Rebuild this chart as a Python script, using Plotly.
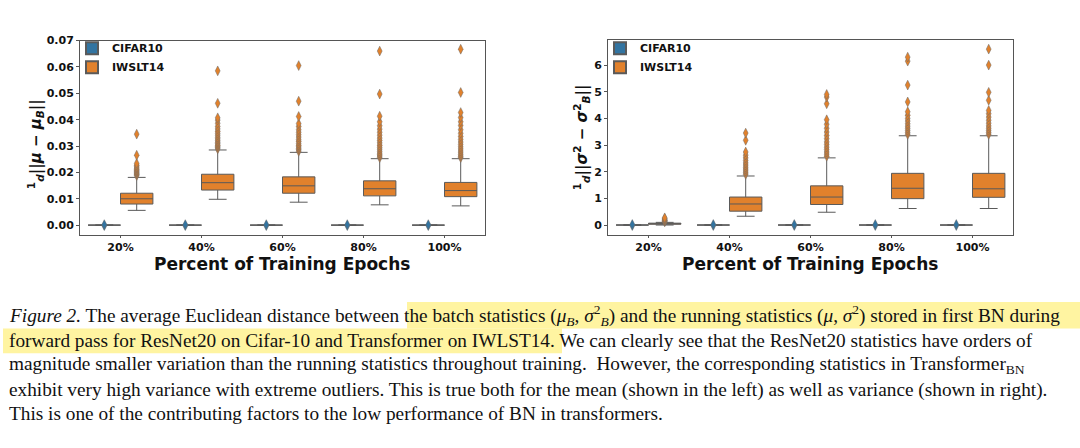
import plotly.graph_objects as go
from plotly.subplots import make_subplots

# categories on the x axis
epochs = ["20%", "40%", "60%", "80%", "100%"]

# left panel: 1/d ||mu - mu_B||
cifar_mean_q1 = [0.0, 0.0, 0.0, 0.0, 0.0]
cifar_mean_med = [0.0, 0.0, 0.0, 0.0, 0.0]
cifar_mean_q3 = [0.0, 0.0, 0.0, 0.0, 0.0]
cifar_mean_lo = [-0.0001, -0.0001, -0.0001, -0.0001, -0.0001]
cifar_mean_hi = [0.0001, 0.0001, 0.0001, 0.0001, 0.0001]
cifar_mean_out = [[0.0002, -0.0002], [0.0002, -0.0002], [0.0002, -0.0002],
                  [0.0002, -0.0002], [0.0002, -0.0002]]

iwslt_mean_q1 = [0.0080, 0.0133, 0.0121, 0.0111, 0.0108]
iwslt_mean_med = [0.0100, 0.0161, 0.0149, 0.0138, 0.0131]
iwslt_mean_q3 = [0.0121, 0.0193, 0.0183, 0.0168, 0.0162]
iwslt_mean_lo = [0.0056, 0.0098, 0.0087, 0.0077, 0.0073]
iwslt_mean_hi = [0.0181, 0.0285, 0.0276, 0.0252, 0.0252]
iwslt_mean_out = [
    [0.0188, 0.0192, 0.0195, 0.0199, 0.0203, 0.0207, 0.0211, 0.0216, 0.0221,
     0.0227, 0.0234, 0.0265, 0.0345],
    [0.0289, 0.0294, 0.0298, 0.0303, 0.0309, 0.0314, 0.0320, 0.0327, 0.0333,
     0.0341, 0.0348, 0.0356, 0.0365, 0.0374, 0.0386, 0.0398, 0.0407, 0.0462, 0.0585],
    [0.0280, 0.0286, 0.0291, 0.0297, 0.0303, 0.0310, 0.0318, 0.0325, 0.0334,
     0.0343, 0.0352, 0.0362, 0.0374, 0.0385, 0.0412, 0.0470, 0.0605],
    [0.0256, 0.0262, 0.0267, 0.0273, 0.0280, 0.0288, 0.0295, 0.0303, 0.0312,
     0.0321, 0.0330, 0.0341, 0.0352, 0.0364, 0.0377, 0.0392, 0.0413, 0.0497, 0.0660],
    [0.0256, 0.0261, 0.0267, 0.0274, 0.0281, 0.0289, 0.0297, 0.0306, 0.0315,
     0.0325, 0.0336, 0.0348, 0.0362, 0.0378, 0.0392, 0.0408, 0.0427, 0.0503, 0.0667],
]

# right panel: 1/d ||sigma^2 - sigma_B^2||
cifar_var_q1 = [0.0, 0.0, 0.0, 0.0, 0.0]
cifar_var_med = [0.0, 0.0, 0.0, 0.0, 0.0]
cifar_var_q3 = [0.0, 0.0, 0.0, 0.0, 0.0]
cifar_var_lo = [-0.01, -0.01, -0.01, -0.01, -0.01]
cifar_var_hi = [0.01, 0.01, 0.01, 0.01, 0.01]
cifar_var_out = [[0.02, -0.02], [0.02, -0.02], [0.02, -0.02], [0.02, -0.02], [0.02, -0.02]]

iwslt_var_q1 = [0.03, 0.52, 0.77, 0.99, 1.04]
iwslt_var_med = [0.05, 0.79, 1.05, 1.38, 1.36]
iwslt_var_q3 = [0.07, 1.05, 1.47, 1.94, 1.94]
iwslt_var_lo = [0.0, 0.33, 0.48, 0.62, 0.62]
iwslt_var_hi = [0.10, 1.84, 2.52, 3.35, 3.35]
iwslt_var_out = [
    [0.12, 0.14, 0.16, 0.18, 0.21, 0.24, 0.27],
    [1.90, 1.96, 2.03, 2.10, 2.17, 2.25, 2.33, 2.42, 2.52, 2.62, 2.74, 3.18, 3.45],
    [2.58, 2.66, 2.74, 2.83, 2.92, 3.02, 3.12, 3.24, 3.36, 3.49, 3.63, 3.78, 3.95,
     4.55, 4.80, 4.90],
    [3.40, 3.47, 3.55, 3.63, 3.71, 3.80, 3.90, 4.00, 4.12, 4.25, 4.62, 5.25, 6.15, 6.30],
    [3.40, 3.47, 3.55, 3.63, 3.72, 3.82, 3.93, 4.05, 4.18, 4.30, 4.68, 4.98, 6.00, 6.60],
]

caption_lines = [
    "<i>Figure 2.</i> The average Euclidean distance between the batch statistics "
    "(<i>μ<sub>B</sub></i>, <i>σ</i><sup>2</sup><sub><i>B</i></sub>) and the running statistics "
    "(<i>μ</i>, <i>σ</i><sup>2</sup>) stored in first BN during",
    "forward pass for ResNet20 on Cifar-10 and Transformer on IWLST14. We can clearly see "
    "that the ResNet20 statistics have orders of",
    "magnitude smaller variation than the running statistics throughout training.  However, "
    "the corresponding statistics in Transformer<sub>BN</sub>",
    "exhibit very high variance with extreme outliers. This is true both for the mean "
    "(shown in the left) as well as variance (shown in right).",
    "This is one of the contributing factors to the low performance of BN in transformers.",
]

BLUE = "#3274a1"
ORANGE = "#e1812c"
W, H = 1080, 448


def px_x(v):
    return v / W


def px_y(v):
    return 1 - v / H


def add_box(fig, col, name, color, q1, med, q3, lo, hi, out, legend):
    fig.add_trace(go.Box(
        x=epochs, y=out, q1=q1, median=med, q3=q3, lowerfence=lo, upperfence=hi,
        name=name, boxpoints="outliers", jitter=0, pointpos=0,
        fillcolor=color, line=dict(color="#5a5a5a", width=1),
        marker=dict(symbol="diamond-tall", size=7, color=color,
                    line=dict(color="#6a6a6a", width=0.5)),
        whiskerwidth=0.55, legend=legend,
        alignmentgroup=legend, offsetgroup=name,
    ), row=1, col=col)


fig = make_subplots(rows=1, cols=2)

add_box(fig, 1, "CIFAR10", BLUE, cifar_mean_q1, cifar_mean_med, cifar_mean_q3,
        cifar_mean_lo, cifar_mean_hi, cifar_mean_out, "legend")
add_box(fig, 1, "IWSLT14", ORANGE, iwslt_mean_q1, iwslt_mean_med, iwslt_mean_q3,
        iwslt_mean_lo, iwslt_mean_hi, iwslt_mean_out, "legend")
add_box(fig, 2, "CIFAR10", BLUE, cifar_var_q1, cifar_var_med, cifar_var_q3,
        cifar_var_lo, cifar_var_hi, cifar_var_out, "legend2")
add_box(fig, 2, "IWSLT14", ORANGE, iwslt_var_q1, iwslt_var_med, iwslt_var_q3,
        iwslt_var_lo, iwslt_var_hi, iwslt_var_out, "legend2")

tickfont = dict(family="DejaVu Sans", size=11, color="#111", weight="bold")
axis_common = dict(showline=True, mirror=True, linecolor="#555", linewidth=1,
                   ticks="outside", ticklen=3, tickcolor="#555", showgrid=False,
                   zeroline=False, tickfont=tickfont)

fig.update_xaxes(**axis_common)
fig.update_xaxes(ticklen=2)
fig.update_yaxes(**axis_common)
fig.update_layout(
    xaxis=dict(domain=[px_x(80), px_x(485)]),
    xaxis2=dict(domain=[px_x(608), px_x(1013)]),
    yaxis=dict(domain=[px_y(232), px_y(35)], range=[-0.0037, 0.07], dtick=0.01,
               tickformat=".2f"),
    yaxis2=dict(domain=[px_y(232), px_y(34)], range=[-0.37, 6.96], dtick=1),
)

legend_style = dict(font=dict(family="DejaVu Sans", size=11, color="#111", weight="bold"),
                    bgcolor="rgba(255,255,255,0)", tracegroupgap=0,
                    xanchor="left", yanchor="top", itemsizing="constant")
fig.update_layout(
    legend=dict(x=px_x(72), y=px_y(28), **legend_style),
    legend2=dict(x=px_x(600), y=px_y(28), **legend_style),
    boxmode="group", boxgap=0.2, boxgroupgap=0,
    width=W, height=H, margin=dict(l=0, r=0, t=0, b=0),
    paper_bgcolor="white", plot_bgcolor="white",
)

# axis titles
title_font = dict(family="DejaVu Sans", size=17, color="#111", weight="bold")
for cx in [282, 810]:
    fig.add_annotation(text="Percent of Training Epochs", xref="paper", yref="paper",
                       x=px_x(cx), y=px_y(261), xanchor="center", yanchor="middle",
                       showarrow=False, font=title_font)
ylab_font = dict(family="DejaVu Sans", size=15, color="#111", weight="bold")
fig.add_annotation(text="<sup>1</sup><sub><i>d</i></sub>||<i>μ</i> − <i>μ</i><sub><i>B</i></sub>||",
                   xref="paper", yref="paper", x=px_x(35), y=px_y(140), textangle=-90,
                   xanchor="center", yanchor="middle", showarrow=False, font=ylab_font)
fig.add_annotation(text="<sup>1</sup><sub><i>d</i></sub>||<i>σ</i><sup>2</sup> − <i>σ</i><sup>2</sup><sub><i>B</i></sub>||",
                   xref="paper", yref="paper", x=px_x(581), y=px_y(133), textangle=-90,
                   xanchor="center", yanchor="middle", showarrow=False, font=ylab_font)

# highlighted part of the caption
hl = "rgba(255,240,130,0.75)"
fig.add_shape(type="rect", xref="paper", yref="paper", x0=px_x(407), x1=px_x(1080),
              y0=px_y(327), y1=px_y(300), fillcolor=hl, line_width=0, layer="below")
fig.add_shape(type="rect", xref="paper", yref="paper", x0=px_x(3), x1=px_x(562),
              y0=px_y(352), y1=px_y(327), fillcolor=hl, line_width=0, layer="below")

cap_font = dict(family="Liberation Serif", size=19.3, color="#111")
for line, yc in zip(caption_lines, [314, 339, 364, 389, 413]):
    fig.add_annotation(text=line, xref="paper", yref="paper", x=px_x(7), y=px_y(yc),
                       xanchor="left", yanchor="middle", showarrow=False, font=cap_font)

fig.write_html("out.html", config={"displayModeBar": False},
               post_script="document.body.style.margin='0';")
